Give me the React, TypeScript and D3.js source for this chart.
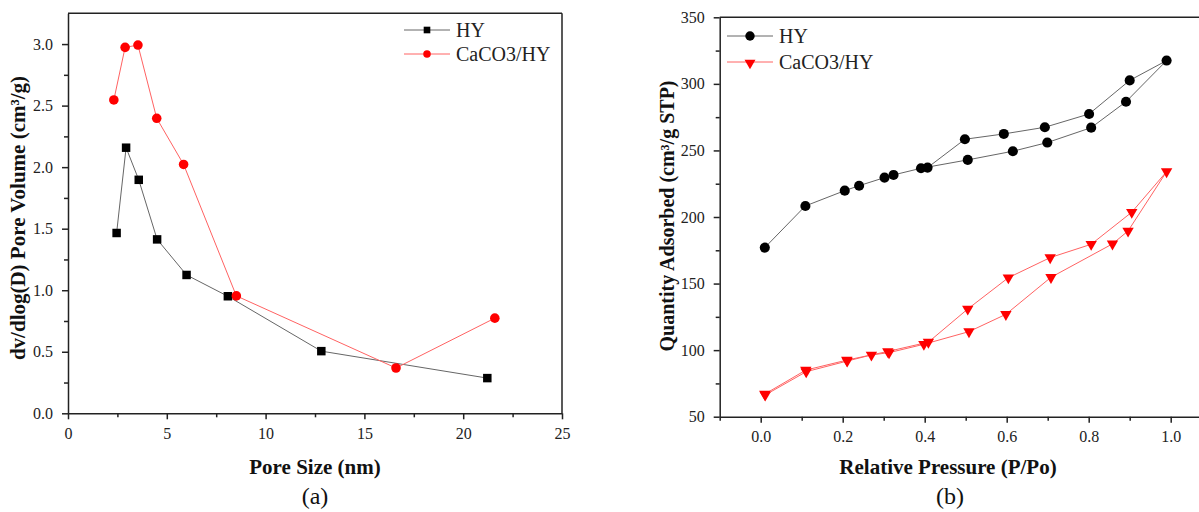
import React, { useEffect, useRef } from 'react'
import * as d3 from 'd3'

// (a) pore size distribution
const poreHYx = [2.46, 2.94, 3.58, 4.51, 6.0, 8.09, 12.82, 21.22]
const poreHYy = [1.465, 2.158, 1.897, 1.413, 1.124, 0.951, 0.505, 0.286]
const poreCaX = [2.32, 2.89, 3.54, 4.49, 5.85, 8.52, 16.6, 21.6]
const poreCaY = [2.546, 2.973, 2.992, 2.397, 2.022, 0.954, 0.368, 0.773]
const poreXTicks = [0, 5, 10, 15, 20, 25]
const poreYTicks = [0, 0.5, 1.0, 1.5, 2.0, 2.5, 3.0]

// (b) N2 isotherms, adsorption then desorption
const isoHYp = [0.01, 0.109, 0.205, 0.24, 0.302, 0.324, 0.391, 0.505, 0.615, 0.699, 0.806, 0.891, 0.99, 0.9, 0.801, 0.693, 0.593, 0.498, 0.407]
const isoHYq = [177, 208.3, 219.8, 223.5, 229.6, 231.6, 236.6, 242.9, 249.4, 255.9, 267.1, 286.6, 317.5, 302.6, 277.4, 267.4, 262.4, 258.4, 237.1]
const isoCaP = [0.011, 0.111, 0.211, 0.27, 0.313, 0.398, 0.508, 0.598, 0.708, 0.858, 0.896, 0.99, 0.905, 0.806, 0.706, 0.604, 0.505, 0.409, 0.31, 0.21, 0.11, 0.01]
const isoCaQ = [66.3, 83.8, 91.8, 96.4, 98.1, 104.4, 113.9, 126.9, 154.7, 179.8, 189.5, 234.1, 203.6, 179.5, 169.5, 154.4, 130.9, 106, 99, 92.5, 85, 67]
const isoXTicks = [0, 0.2, 0.4, 0.6, 0.8, 1.0]
const isoYTicks = [50, 100, 150, 200, 250, 300, 350]

const FONT = '"Liberation Serif", "Times New Roman", serif'
const BLACK_LINE = '#666'
const RED_LINE = '#ff6262'

function drawAxes(g, x, y, xt, xminor, yt, yminor, xfmt, yfmt) {
    const [x0, x1] = x.range()
    const [y0, y1] = y.range()

    const style = sel => {
        sel.selectAll('text').attr('font-family', FONT).attr('font-size', 16).attr('fill', '#222')
        sel.selectAll('line').attr('stroke', '#222').attr('stroke-width', 1.5)
        sel.select('.domain').attr('stroke', '#222').attr('stroke-width', 1.5)
    }

    g.append('g').attr('transform', `translate(0,${y0})`)
        .call(d3.axisBottom(x).tickValues(xminor).tickSize(4).tickFormat(() => ''))
        .call(style).select('.domain').remove()
    g.append('g').attr('transform', `translate(${x0},0)`)
        .call(d3.axisLeft(y).tickValues(yminor).tickSize(4).tickFormat(() => ''))
        .call(style).select('.domain').remove()

    g.append('g').attr('transform', `translate(0,${y0})`)
        .call(d3.axisBottom(x).tickValues(xt).tickSize(6).tickPadding(8).tickSizeOuter(0).tickFormat(xfmt))
        .call(style)
    g.append('g').attr('transform', `translate(${x0},0)`)
        .call(d3.axisLeft(y).tickValues(yt).tickSize(6).tickPadding(9).tickSizeOuter(0).tickFormat(yfmt))
        .call(style)

    // box: top and right edges
    g.append('line').attr('x1', x0).attr('x2', x1).attr('y1', y1).attr('y2', y1)
        .attr('stroke', '#222').attr('stroke-width', 1.5)
    g.append('line').attr('x1', x1).attr('x2', x1).attr('y1', y0).attr('y2', y1)
        .attr('stroke', '#222').attr('stroke-width', 1.5)
}

function drawSeries(g, x, y, xs, ys, color, lineColor, symbol, size, rotate) {
    const pts = xs.map((v, i) => [x(v), y(ys[i])])
    g.append('path').attr('d', d3.line()(pts))
        .attr('fill', 'none').attr('stroke', lineColor).attr('stroke-width', 1)
    g.selectAll(null).data(pts).enter().append('path')
        .attr('d', d3.symbol().type(symbol).size(size)())
        .attr('transform', d => `translate(${d[0]},${d[1]}) rotate(${rotate})`)
        .attr('fill', color)
}

function legendRow(g, x, yy, label, color, lineColor, symbol, size, rotate, dyMark) {
    g.append('line').attr('x1', x).attr('x2', x + 46).attr('y1', yy).attr('y2', yy)
        .attr('stroke', lineColor).attr('stroke-width', 1)
    g.append('path').attr('d', d3.symbol().type(symbol).size(size)())
        .attr('transform', `translate(${x + 23},${yy + (dyMark || 0)}) rotate(${rotate})`)
        .attr('fill', color)
    g.append('text').attr('x', x + 52).attr('y', yy + 7)
        .attr('font-family', FONT).attr('font-size', 20).attr('fill', '#222').text(label)
}

function axisTitle(svg, x, y, text, rotate, bold, size) {
    svg.append('text').attr('transform', `translate(${x},${y}) rotate(${rotate})`)
        .attr('text-anchor', 'middle').attr('dominant-baseline', 'central')
        .attr('font-family', FONT).attr('font-size', size)
        .attr('font-weight', bold ? 'bold' : 'normal').attr('fill', '#111').text(text)
}

export default function App() {
    const ref = useRef(null)

    useEffect(() => {
        const svg = d3.select(ref.current)
        svg.selectAll('*').remove()

        // ----- (a)
        const xa = d3.scaleLinear().domain([0, 25]).range([68, 562])
        const ya = d3.scaleLinear().domain([0, 3.25]).range([413.3, 13.3])
        const ga = svg.append('g')
        drawAxes(ga, xa, ya, poreXTicks, [2.5, 7.5, 12.5, 17.5, 22.5],
            poreYTicks, [0.25, 0.75, 1.25, 1.75, 2.25, 2.75],
            d3.format('d'), d3.format('.1f'))
        drawSeries(ga, xa, ya, poreHYx, poreHYy, '#000', BLACK_LINE, d3.symbolSquare, 72, 0)
        drawSeries(ga, xa, ya, poreCaX, poreCaY, '#ff0000', RED_LINE, d3.symbolCircle, 72, 0)
        legendRow(ga, 404, 30, 'HY', '#000', BLACK_LINE, d3.symbolSquare, 44, 0)
        legendRow(ga, 404, 54, 'CaCO3/HY', '#ff0000', RED_LINE, d3.symbolCircle, 44, 0)
        axisTitle(svg, 18, 218, 'dv/dlog(D) Pore Volume (cm³/g)', -90, true, 21)
        axisTitle(svg, 315, 467, 'Pore Size (nm)', 0, true, 21)
        axisTitle(svg, 315, 496, '(a)', 0, false, 24)

        // ----- (b)
        const xb = d3.scaleLinear().domain([-0.1, 1.1]).range([719.7, 1211.7])
        const yb = d3.scaleLinear().domain([50, 350]).range([416.7, 17.3])
        const gb = svg.append('g')
        drawAxes(gb, xb, yb, isoXTicks, [-0.1, 0.1, 0.3, 0.5, 0.7, 0.9],
            isoYTicks, [75, 125, 175, 225, 275, 325],
            d3.format('.1f'), d3.format('d'))
        drawSeries(gb, xb, yb, isoHYp, isoHYq, '#000', BLACK_LINE, d3.symbolCircle, 80, 0)
        drawSeries(gb, xb, yb, isoCaP, isoCaQ, '#ff0000', RED_LINE, d3.symbolTriangle, 56, 180)
        legendRow(gb, 727, 36, 'HY', '#000', BLACK_LINE, d3.symbolCircle, 70, 0)
        legendRow(gb, 727, 62, 'CaCO3/HY', '#ff0000', RED_LINE, d3.symbolTriangle, 52, 180, 1)
        axisTitle(svg, 667, 216, 'Quantity Adsorbed (cm³/g STP)', -90, true, 20)
        axisTitle(svg, 948, 467, 'Relative Pressure (P/Po)', 0, true, 21)
        axisTitle(svg, 950, 496, '(b)', 0, false, 24)
    }, [])

    return (
        <div style={{ position: 'absolute', left: 0, top: 0 }}>
            <svg ref={ref} width={1199} height={512} style={{ display: 'block', background: '#fff' }} />
        </div>
    )
}
